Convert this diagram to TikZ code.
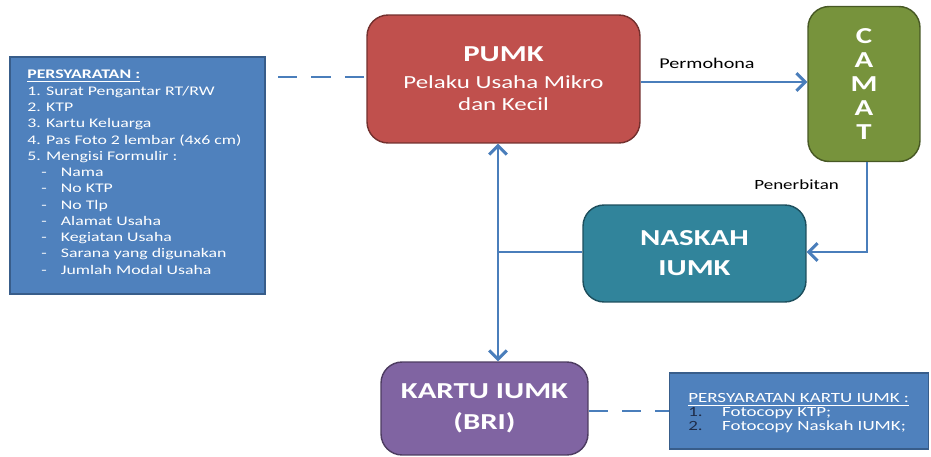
\documentclass[tikz,border=0pt]{standalone}
\usepackage{fontspec}
\setmainfont{Carlito}
\newfontfamily\lebar[FakeStretch=1.35]{Carlito}
\usepackage{tikz}
\usetikzlibrary{arrows.meta}

\definecolor{boxblue}{HTML}{4F81BD}
\definecolor{lineblue}{HTML}{4A7EBB}
\definecolor{edgeblue}{HTML}{385D8A}
\definecolor{pumkred}{HTML}{C0504D}
\definecolor{camatgreen}{HTML}{77933C}
\definecolor{naskahteal}{HTML}{31849B}
\definecolor{kartupurple}{HTML}{8064A2}
\definecolor{numdark}{HTML}{1F2D4A}

\tikzset{
  kotak/.style={rounded corners=12pt, draw=#1!60!black, fill=#1, line width=0.8pt,
    text=white, align=center},
  syarat/.style={draw=edgeblue, fill=boxblue, line width=0.8pt},
  panah/.style={draw=lineblue, line width=1.7pt},
  putus/.style={draw=lineblue, line width=1.7pt, dash pattern=on 11pt off 8pt},
  judul/.style={font=\lebar\bfseries\fontsize{13}{#1}\selectfont}
}

\begin{document}
\begin{tikzpicture}[x=0.02cm, y=-0.02cm, >={Straight Barb[length=5pt,width=10pt]}]
    \useasboundingbox (0,0) rectangle (931,457);

    % Kotak persyaratan (kiri)
    \node[syarat, minimum width=5.1cm, minimum height=4.74cm] (pers) at (137.5,175.5) {};
    \node[anchor=north west, align=left, text=white, inner sep=0pt,
      font=\lebar\fontsize{7.5}{9.25}\selectfont] (perstext) at (27,70)
      {\underline{\textbf{PERSYARATAN :}}\\
       1. Surat Pengantar RT/RW\\
       2. KTP\\
       3. Kartu Keluarga\\
       4. Pas Foto 2 lembar (4x6 cm)\\
       5. Mengisi Formulir :\\
       \hspace{8pt}-\hspace{8pt}Nama\\
       \hspace{8pt}-\hspace{8pt}No KTP\\
       \hspace{8pt}-\hspace{8pt}No Tlp\\
       \hspace{8pt}-\hspace{8pt}Alamat Usaha\\
       \hspace{8pt}-\hspace{8pt}Kegiatan Usaha\\
       \hspace{8pt}-\hspace{8pt}Sarana yang digunakan\\
       \hspace{8pt}-\hspace{8pt}Jumlah Modal Usaha};

    % Kotak PUMK
    \node[kotak=pumkred, minimum width=5.46cm, minimum height=2.56cm,
      font=\lebar\fontsize{10.5}{12.5}\selectfont] (pumk) at (503.5,79)
      {{\bfseries\fontsize{13}{16}\selectfont PUMK}\\[3pt]
       Pelaku Usaha Mikro\\
       dan Kecil};

    % Kotak CAMAT
    \node[kotak=camatgreen, minimum width=2.24cm, minimum height=3.1cm, judul=13.8] (camat) at (864,84)
      {C\\A\\M\\A\\T};

    % Kotak NASKAH IUMK
    \node[kotak=naskahteal, minimum width=4.46cm, minimum height=1.94cm, judul=17] (naskah) at (694.5,253.5)
      {NASKAH\\IUMK};

    % Kotak KARTU IUMK
    \node[kotak=kartupurple, minimum width=4.14cm, minimum height=1.86cm, judul=18] (kartu) at (484.5,408.5)
      {KARTU IUMK\\(BRI)};

    % Kotak persyaratan kartu (kanan bawah)
    \node[syarat, minimum width=5.18cm, minimum height=1.52cm] (syaratkartu) at (799,411) {};
    \node[anchor=north west, align=left, text=white, inner sep=0pt,
      font=\lebar\fontsize{8}{8}\selectfont] (syarattext) at (688,393)
      {\underline{PERSYARATAN KARTU IUMK :}\\
       \textcolor{numdark}{1.}\hspace{11pt}Fotocopy KTP;\\
       \textcolor{numdark}{2.}\hspace{11pt}Fotocopy Naskah IUMK;};

    % Garis putus-putus
    \coordinate (persujung) at (278,77);
    \draw[putus] (persujung) -- (persujung -| pumk.west);
    \draw[putus] (kartu.east |- syaratkartu.west) -- (syaratkartu.west);

    % Permohonan ke camat
    \draw[panah, ->] (pumk.east |- 0,82) -- (camat.west |- 0,82);
    \node[text=black, font=\lebar\fontsize{8.5}{10}\selectfont] (permohona) at (707,63) {Permohona};

    % Penerbitan naskah
    \coordinate (belok) at (867,252);
    \draw[panah, ->] (camat.south -| belok) -- (belok) -- (naskah.east |- belok);
    \node[anchor=east, text=black, font=\lebar\fontsize{8}{10}\selectfont] (penerbitan) at (845,185) {Penerbitan};

    % Jalur PUMK - KARTU
    \coordinate (cabang) at (498,252);
    \draw[panah, <->] (pumk.south -| cabang) -- (kartu.north -| cabang);
    \draw[panah] (naskah.west |- cabang) -- (cabang);

\end{tikzpicture}
\end{document}
